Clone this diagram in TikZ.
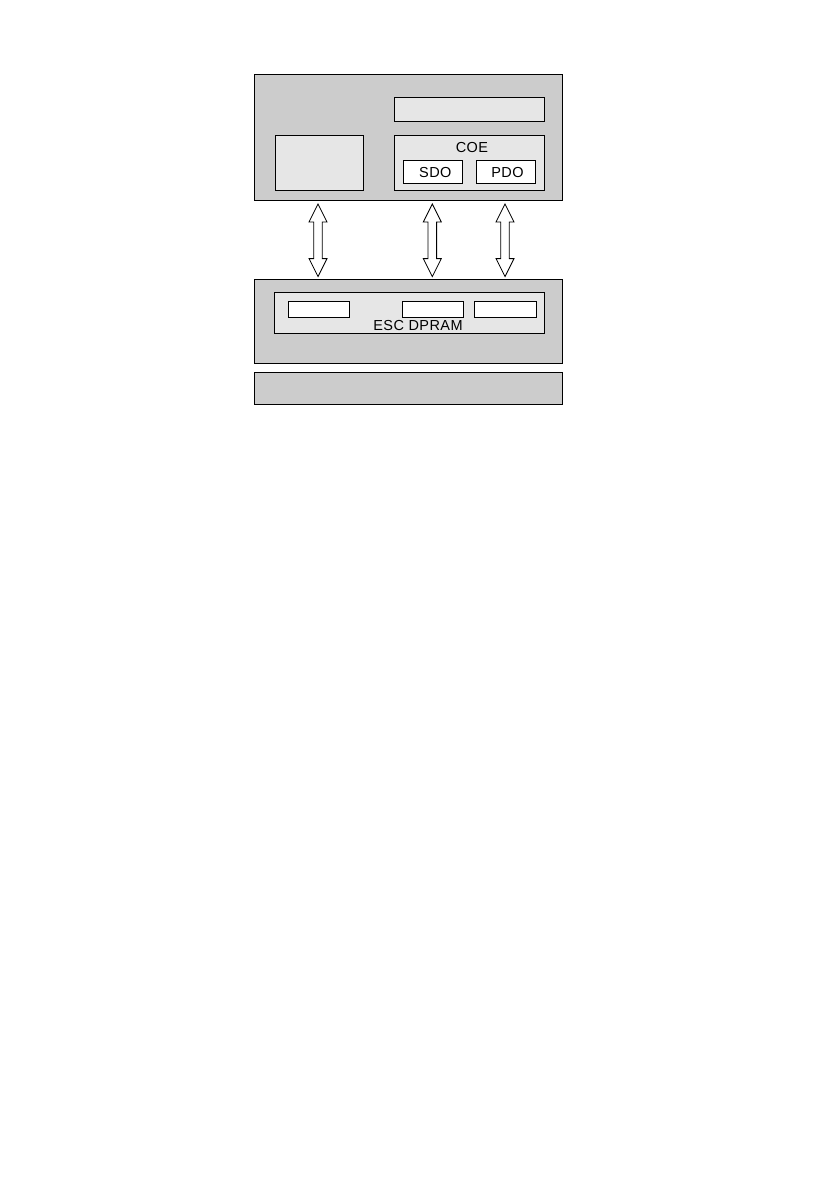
\documentclass[tikz,border=0pt]{standalone}
\usepackage{fontspec}
\setmainfont{Liberation Sans}[LetterSpace=3]
\begin{document}
\begin{tikzpicture}[x=1pt,y=-1pt,
  outerbox/.style={draw=black,line width=1pt,fill={rgb,255:red,204;green,204;blue,204},anchor=north west,inner sep=0pt},
  innerbox/.style={draw=black,line width=1pt,fill={rgb,255:red,230;green,230;blue,230},anchor=north west,inner sep=0pt},
  whitebox/.style={draw=black,line width=1pt,fill=white,anchor=north west,inner sep=0pt},
  lbl/.style={font=\fontsize{14.5}{16}\selectfont,inner sep=0pt,text=black},
  dblarrow/.pic={\draw[line width=0.8pt,fill=white]
     (0,-36.3) -- (9,-18.3) -- (4.3,-18.3) -- (4.3,18.3) -- (9,18.3) -- (0,36.3)
     -- (-9,18.3) -- (-4.3,18.3) -- (-4.3,-18.3) -- (-9,-18.3) -- cycle;}
]
\useasboundingbox (0,0) rectangle (839,1191);
% top block
\node[outerbox,minimum width=307.7pt,minimum height=126pt] (top) at (254,74) {};
\node[innerbox,minimum width=150pt,minimum height=24pt] (bar) at (394.3,97.3) {};
\node[innerbox,minimum width=87.4pt,minimum height=55pt] (left) at (275.3,135.3) {};
\node[innerbox,minimum width=150pt,minimum height=55pt] (coe) at (394.3,135.3) {};
\node[lbl] (coetxt) at (472,147.3) {COE};
\node[whitebox,minimum width=58.4pt,minimum height=23.3pt] (sdo) at (403.3,160) {};
\node[lbl] (sdotxt) at (435.3,172.3) {SDO};
\node[whitebox,minimum width=58.4pt,minimum height=23.3pt] (pdo) at (476.3,160) {};
\node[lbl] (pdotxt) at (507.5,172.3) {PDO};
% middle block
\node[outerbox,minimum width=307.7pt,minimum height=84pt] (mid) at (254,279.3) {};
\node[innerbox,minimum width=270pt,minimum height=41.6pt] (dpram) at (274.3,291.7) {};
\node[whitebox,minimum width=60.4pt,minimum height=16pt] (m1) at (288.3,301.3) {};
\node[whitebox,minimum width=60.4pt,minimum height=16pt] (m2) at (402.3,301.3) {};
\node[whitebox,minimum width=61.4pt,minimum height=16pt] (m3) at (474.3,301.3) {};
\node[lbl] (dpramtxt) at (418,326) {ESC DPRAM};
% bottom block
\node[outerbox,minimum width=307.7pt,minimum height=32.6pt] (bot) at (254,371.7) {};
% arrows
\pic at (318,240.3) {dblarrow};
\pic at (432.3,240.3) {dblarrow};
\pic at (505,240.3) {dblarrow};
\end{tikzpicture}
\end{document}
